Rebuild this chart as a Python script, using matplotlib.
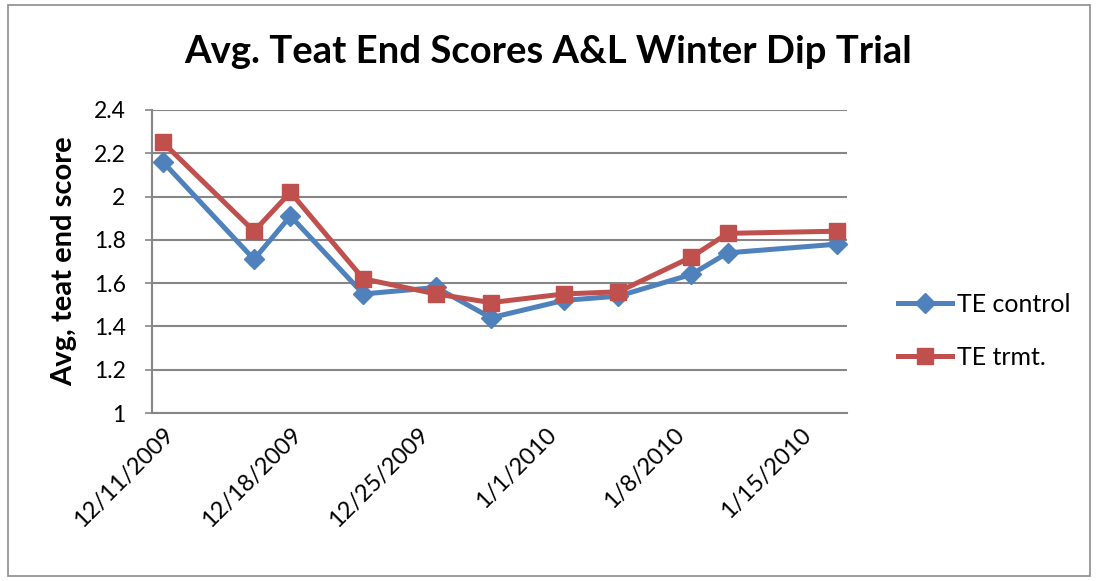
import matplotlib
matplotlib.use("Agg")
import matplotlib.pyplot as plt
import matplotlib.dates as mdates
from matplotlib.patches import Rectangle
import datetime as dt

dates = ["2009-12-11", "2009-12-16", "2009-12-18", "2009-12-22", "2009-12-26",
         "2009-12-29", "2010-01-02", "2010-01-05", "2010-01-09", "2010-01-11",
         "2010-01-17"]
te_control = [2.16, 1.71, 1.91, 1.55, 1.58, 1.44, 1.52, 1.54, 1.64, 1.74, 1.78]
te_trmt = [2.25, 1.84, 2.02, 1.62, 1.55, 1.51, 1.55, 1.56, 1.72, 1.83, 1.84]
tick_dates = ["2009-12-11", "2009-12-18", "2009-12-25", "2010-01-01", "2010-01-08", "2010-01-15"]
tick_labels = ["12/11/2009", "12/18/2009", "12/25/2009", "1/1/2010", "1/8/2010", "1/15/2010"]
y_ticks = [1, 1.2, 1.4, 1.6, 1.8, 2, 2.2, 2.4]
y_labels = ["1", "1.2", "1.4", "1.6", "1.8", "2", "2.2", "2.4"]

plt.rcParams['font.family'] = ['Lato', 'DejaVu Sans']

x = [dt.datetime.strptime(d, "%Y-%m-%d") for d in dates]
xt = [dt.datetime.strptime(d, "%Y-%m-%d") for d in tick_dates]

fig = plt.figure(figsize=(10.96, 5.81), dpi=100)
fig.patches.append(Rectangle((8/1096, 5/581), 1082/1096, 571/581, transform=fig.transFigure,
                             fill=False, edgecolor="#8c8c8c", linewidth=1.2, zorder=0))
ax = fig.add_axes([152/1096, 1 - 413/581, 695/1096, 303/581])

blue = "#4F81BD"
red = "#C0504D"
ax.plot(x, te_control, color=blue, linewidth=3.6, marker="D", markersize=10,
        label="TE control", zorder=3)
ax.plot(x, te_trmt, color=red, linewidth=3.6, marker="s", markersize=11.5,
        label="TE trmt.", zorder=4)

ax.set_ylim(1, 2.4)
ax.set_yticks(y_ticks)
ax.set_yticklabels(y_labels, fontsize=16.5)
x0 = mdates.date2num(xt[0]) - 0.6
x1 = mdates.date2num(x[-1]) + 0.55
ax.set_xlim(x0, x1)
ax.set_xticks(xt)
ax.set_xticklabels(tick_labels, fontsize=17, rotation=45, ha="right", va="top",
                   rotation_mode="anchor")
ax.tick_params(axis="x", length=0, pad=8)
ax.tick_params(axis="y", length=5, color="#868686", width=1.2, pad=14)
ax.grid(axis="y", color="#868686", linewidth=1.5)
ax.set_axisbelow(True)
for s in ["top", "right"]:
    ax.spines[s].set_visible(False)
for s in ["left", "bottom"]:
    ax.spines[s].set_color("#868686")
    ax.spines[s].set_linewidth(1.5)

ax.set_ylabel("Avg, teat end score", fontsize=21, fontweight="bold", labelpad=12)
fig.text(548/1096, 1 - 52/581, "Avg. Teat End Scores A&L Winter Dip Trial",
         ha="center", va="center", fontsize=27.5, fontweight="bold")

leg = fig.legend(loc="center left", bbox_to_anchor=(898/1096, 1 - 331/581), frameon=False,
                 fontsize=18, handlelength=2.15, labelspacing=1.2, handletextpad=0.2,
                 borderaxespad=0, borderpad=0)

fig.savefig("out.png", dpi=100)
